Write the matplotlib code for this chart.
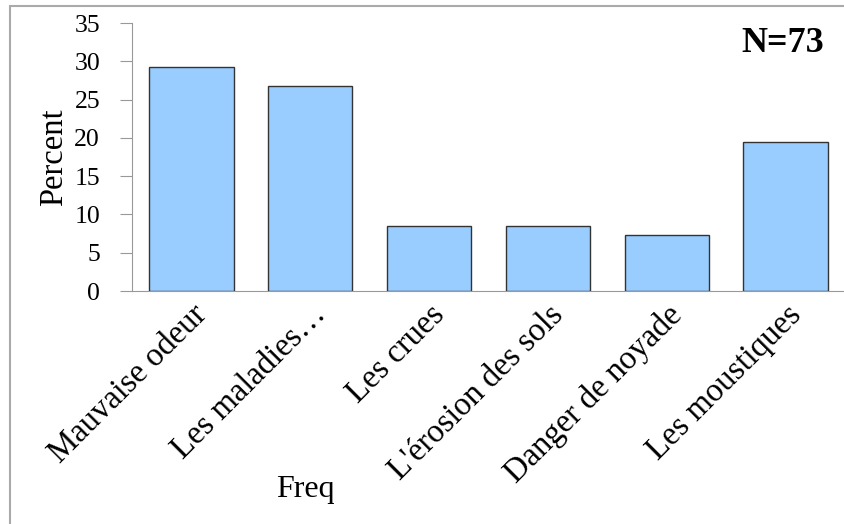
import matplotlib.pyplot as plt
import matplotlib.patches as mpatches

# Data: percent of answers (82 answers, N=73 respondents)
categories = ['Mauvaise odeur', 'Les maladies…', 'Les crues', "L'érosion des sols",
              'Danger de noyade', 'Les moustiques']
percent = [29.27, 26.83, 8.54, 8.54, 7.32, 19.51]
yticks = [0, 5, 10, 15, 20, 25, 30, 35]

plt.rcParams['font.family'] = ['Liberation Serif', 'DejaVu Serif']

fig = plt.figure(figsize=(8.45, 5.24), dpi=100)
ax = fig.add_axes([132 / 845, 1 - 291 / 524, 713 / 845, 268 / 524])

x = range(len(categories))
ax.bar(x, percent, width=0.71, color='#99CCFF', edgecolor='#333333', linewidth=1)

ax.set_xlim(-0.5, len(categories) - 0.5)
ax.set_ylim(0, 35)
ax.set_yticks(yticks)
ax.set_xticks(list(x))
ax.set_xticklabels(categories, rotation=45, ha='right', rotation_mode='anchor', fontsize=23.5)
ax.tick_params(axis='y', labelsize=18.5, length=9, color='#999999', pad=14)
ax.tick_params(axis='x', length=0, pad=6)

for s in ['top', 'right']:
    ax.spines[s].set_visible(False)
ax.spines['left'].set_color('#999999')
ax.spines['bottom'].set_color('#999999')

ax.set_ylabel('Percent', fontsize=23.5, labelpad=4)
fig.text(305 / 845, 1 - 490 / 524, 'Freq', fontsize=23, ha='center', va='center')
fig.text(783 / 845, 1 - 44 / 524, 'N=73', fontsize=26, fontweight='bold',
         ha='center', va='center')

# outer border of the chart area
border = mpatches.Rectangle((10 / 845, -0.01), 1.2, 1 - 6 / 524 + 0.01, transform=fig.transFigure,
                            fill=False, edgecolor='#aaaaaa', linewidth=1.5, clip_on=False)
fig.patches.append(border)

plt.savefig('out.png', dpi=100)
